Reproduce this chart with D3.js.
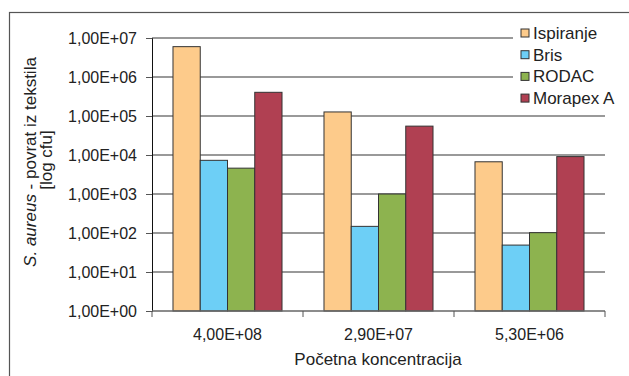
<!DOCTYPE html>
<html>
<head>
<meta charset="utf-8">
<script src="https://cdn.jsdelivr.net/npm/d3@7"></script>
<style>
  body { margin: 0; background: #fff; }
  text { font-family: "Liberation Sans", Arial, sans-serif; fill: #222; }
</style>
</head>
<body>
<svg width="629" height="376"></svg>
<script>
let svg = d3.select("svg");

let categories = ["4,00E+08", "2,90E+07", "5,30E+06"];
let seriesNames = ["Ispiranje", "Bris", "RODAC", "Morapex A"];
let colors = ["#fdcb8b", "#6dcff6", "#8db34f", "#b04052"];
let ispiranje = [6.0e6, 1.27e5, 6.7e3];
let bris = [7.3e3, 148, 49];
let rodac = [4.6e3, 1.0e3, 102];
let morapex = [4.05e5, 5.5e4, 9.1e3];
let yTicks = [1, 10, 100, 1e3, 1e4, 1e5, 1e6, 1e7];
let yTickLabels = ["1,00E+00", "1,00E+01", "1,00E+02", "1,00E+03", "1,00E+04", "1,00E+05", "1,00E+06", "1,00E+07"];

let series = [ispiranje, bris, rodac, morapex];

let plotLeft = 152, plotRight = 605, plotTop = 38, plotBottom = 311;
let tickFont = "16px";
let titleFont = "17px";

// outer frame
svg.append("rect")
    .attr("x", 9.5).attr("y", 12.5)
    .attr("width", 700).attr("height", 500)
    .attr("fill", "none").attr("stroke", "#555").attr("stroke-width", 1.2);

let x0 = d3.scaleBand().domain(categories).range([plotLeft, plotRight]).paddingInner(0.278).paddingOuter(0.139);
let x1 = d3.scaleBand().domain(seriesNames).range([0, x0.bandwidth()]);
let y = d3.scaleLog().domain([1, 1e7]).range([plotBottom, plotTop]);

// gridlines
svg.append("g").selectAll("line")
    .data(yTicks.slice(1))
    .join("line")
    .attr("x1", plotLeft).attr("x2", plotRight)
    .attr("y1", d => y(d)).attr("y2", d => y(d))
    .attr("stroke", "#777").attr("stroke-width", 1.5);

// bars
categories.forEach((c, i) => {
    series.forEach((s, j) => {
        svg.append("rect")
            .attr("x", x0(c) + x1(seriesNames[j]))
            .attr("y", y(s[i]))
            .attr("width", x1.bandwidth())
            .attr("height", plotBottom - y(s[i]))
            .attr("fill", colors[j])
            .attr("stroke", "#333")
            .attr("stroke-width", 1);
    });
});

// y axis
let yAxis = d3.axisLeft(y).tickValues(yTicks)
    .tickFormat((d, i) => yTickLabels[i]).tickSize(6).tickPadding(9);
let gy = svg.append("g").attr("transform", `translate(${plotLeft},0)`).call(yAxis);
gy.select(".domain").attr("stroke", "#111");
gy.selectAll(".tick line").attr("stroke", "#555");
gy.selectAll("text").style("font-size", tickFont).attr("fill", "#222");

// x axis
let gx = svg.append("g").attr("transform", `translate(0,${plotBottom})`);
gx.append("line").attr("x1", plotLeft).attr("x2", plotRight)
    .attr("stroke", "#666").attr("stroke-width", 1.5);
let xEdges = [plotLeft].concat(categories.map(c => x0(c) + x0.bandwidth() + x0.step() * x0.paddingInner() / 2));
xEdges[xEdges.length - 1] = plotRight;
gx.selectAll(".xt").data(xEdges).join("line")
    .attr("x1", d => d).attr("x2", d => d).attr("y1", 0).attr("y2", 6)
    .attr("stroke", "#555");
gx.selectAll(".xl").data(categories).join("text")
    .attr("x", d => x0(d) + x0.bandwidth() / 2)
    .attr("y", 29)
    .attr("text-anchor", "middle")
    .style("font-size", tickFont)
    .text(d => d);

// axis titles
svg.append("text")
    .attr("x", 378).attr("y", 365)
    .attr("text-anchor", "middle")
    .style("font-size", titleFont)
    .text("Početna koncentracija");

let yt = svg.append("text")
    .attr("transform", "translate(36,162) rotate(-90)")
    .attr("text-anchor", "middle")
    .style("font-size", titleFont);
yt.append("tspan").style("font-style", "italic").text("S. aureus");
yt.append("tspan").text(" - povrat iz tekstila");
svg.append("text")
    .attr("transform", "translate(52,160) rotate(-90)")
    .attr("text-anchor", "middle")
    .style("font-size", titleFont)
    .text("[log cfu]");

// legend
let lg = svg.append("g");
lg.append("rect").attr("x", 513).attr("y", 20).attr("width", 115).attr("height", 88).attr("fill", "#fff");
seriesNames.forEach((n, i) => {
    let ly = 33 + i * 21.7;
    lg.append("rect")
        .attr("x", 521).attr("y", ly - 4)
        .attr("width", 8).attr("height", 8)
        .attr("fill", colors[i]).attr("stroke", "#333").attr("stroke-width", 1);
    lg.append("text")
        .attr("x", 533).attr("y", ly + 6)
        .style("font-size", titleFont)
        .text(n);
});
</script>
</body>
</html>
